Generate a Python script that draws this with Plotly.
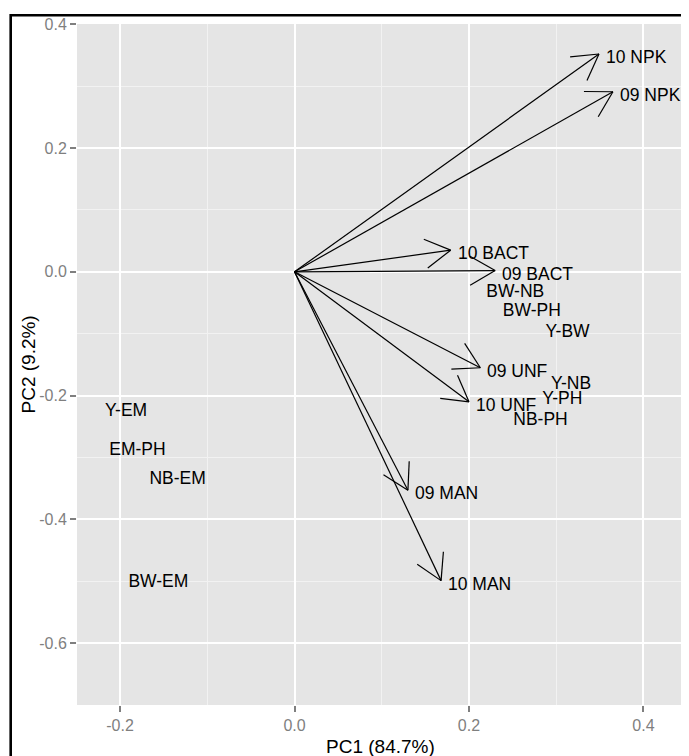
import numpy as np
import plotly.graph_objects as go

# ---- data ----
arrow_labels = ["10 NPK", "09 NPK", "10 BACT", "09 BACT", "09 UNF", "10 UNF", "09 MAN", "10 MAN"]
arrow_pc1 = [0.349, 0.365, 0.179, 0.230, 0.213, 0.200, 0.130, 0.168]
arrow_pc2 = [0.352, 0.291, 0.035, 0.002, -0.155, -0.210, -0.353, -0.499]

sample_labels = ["Y-EM", "EM-PH", "NB-EM", "BW-EM", "BW-NB", "BW-PH", "Y-BW", "Y-NB", "Y-PH", "NB-PH"]
sample_pc1 = [-0.193, -0.180, -0.134, -0.156, 0.253, 0.272, 0.313, 0.317, 0.307, 0.282]
sample_pc2 = [-0.226, -0.289, -0.335, -0.502, -0.033, -0.064, -0.099, -0.183, -0.207, -0.241]

x_tickvals = [-0.2, 0.0, 0.2, 0.4]
x_ticktext = ["-0.2", "0.0", "0.2", "0.4"]
y_tickvals = [0.4, 0.2, 0.0, -0.2, -0.4, -0.6]
y_ticktext = ["0.4", "0.2", "0.0", "-0.2", "-0.4", "-0.6"]
x_minor = [-0.1, 0.1, 0.3]
y_minor = [0.3, 0.1, -0.1, -0.3, -0.5]

x_title = "PC1 (84.7%)"
y_title = "PC2 (9.2%)"

# ---- layout geometry (page has an 8px body margin) ----
OFF = 8
W, H = 689 - OFF, 756 - OFF
ML, MT = 77 - OFF, 24 - OFF
MR = W - (683 - OFF)
MB = H - (705 - OFF)
X_RANGE = [-0.2493, 0.4453]
Y_RANGE = [-0.700, 0.4005]
pw, ph = W - ML - MR, H - MT - MB
sx = pw / (X_RANGE[1] - X_RANGE[0])
sy = ph / (Y_RANGE[1] - Y_RANGE[0])

FONT = "Liberation Sans, Arial, Helvetica, sans-serif"

# arrow shafts
lx, ly = [], []
for x, y in zip(arrow_pc1, arrow_pc2):
    lx += [0, x, None]
    ly += [0, y, None]

# open arrow heads (30 degrees, fixed pixel length)
HEAD = 29.0
hx, hy = [], []
for x, y in zip(arrow_pc1, arrow_pc2):
    ux, uy = -x * sx, -y * sy
    n = np.hypot(ux, uy)
    ux, uy = ux / n, uy / n
    for a in (np.radians(30), -np.radians(30)):
        rx = ux * np.cos(a) - uy * np.sin(a)
        ry = ux * np.sin(a) + uy * np.cos(a)
        hx += [x + HEAD * rx / sx, x, None]
        hy += [y + HEAD * ry / sy, y, None]

fig = go.Figure()
fig.add_trace(go.Scatter(x=lx, y=ly, mode="lines", line=dict(color="black", width=1.2),
                         hoverinfo="skip", showlegend=False))
fig.add_trace(go.Scatter(x=hx, y=hy, mode="lines", line=dict(color="black", width=1.2),
                         hoverinfo="skip", showlegend=False))
fig.add_trace(go.Scatter(x=sample_pc1, y=sample_pc2, mode="text", text=sample_labels,
                         textposition="middle center",
                         textfont=dict(family=FONT, size=17.5, color="black"),
                         showlegend=False))

annotations = []
for lab, x, y in zip(arrow_labels, arrow_pc1, arrow_pc2):
    annotations.append(dict(x=x, y=y, xref="x", yref="y", text=lab, showarrow=False,
                            xanchor="left", yanchor="middle", xshift=5, yshift=-3,
                            font=dict(family=FONT, size=17.5, color="black")))

annotations.append(dict(x=0.5, y=-((746 - OFF) - (H - MB)) / ph, xref="paper", yref="paper",
                        text=x_title, showarrow=False, xanchor="center", yanchor="middle",
                        font=dict(family=FONT, size=19, color="black")))
annotations.append(dict(x=((28 - OFF) - ML) / pw, y=0.5, xref="paper", yref="paper",
                        text=y_title, showarrow=False, xanchor="center", yanchor="middle",
                        textangle=-90,
                        font=dict(family=FONT, size=19, color="black")))

axis_common = dict(
    ticks="outside", ticklen=6, tickwidth=1.5, tickcolor="#7f7f7f",
    tickfont=dict(family=FONT, size=16, color="#7f7f7f"),
    showgrid=True, gridcolor="white", gridwidth=1.6,
    zeroline=False, showline=False, tickmode="array",
)

fig.update_layout(
    width=W, height=H,
    margin=dict(l=ML, r=MR, t=MT, b=MB, pad=0),
    paper_bgcolor="white", plot_bgcolor="#E5E5E5",
    xaxis=dict(range=X_RANGE, tickvals=x_tickvals, ticktext=x_ticktext,
               minor=dict(tickvals=x_minor, showgrid=True, gridcolor="#F2F2F2", gridwidth=0.8, ticks=""),
               **axis_common),
    yaxis=dict(range=Y_RANGE, tickvals=y_tickvals, ticktext=y_ticktext,
               minor=dict(tickvals=y_minor, showgrid=True, gridcolor="#F2F2F2", gridwidth=0.8, ticks=""),
               **axis_common),
    annotations=annotations,
    shapes=[dict(type="rect", xref="paper", yref="paper",
                 x0=((10.7 - OFF) - ML) / pw, x1=(W + 10 - ML) / pw,
                 y0=-(H + 10 - (H - MB)) / ph, y1=1 + (MT - (15.3 - OFF)) / ph,
                 line=dict(color="black", width=2.6), fillcolor="rgba(0,0,0,0)", layer="above")],
    showlegend=False,
)

fig.write_html("out.html")
